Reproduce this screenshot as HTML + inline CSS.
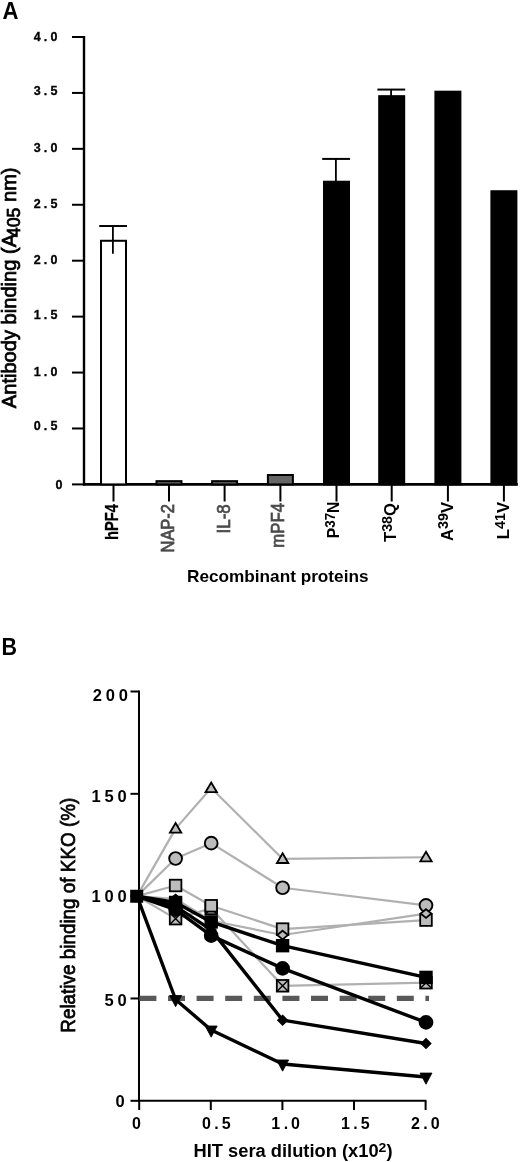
<!DOCTYPE html>
<html><head><meta charset="utf-8"><style>
html,body{margin:0;padding:0;background:#fff;width:520px;height:1162px;overflow:hidden}
svg{display:block;font-family:"Liberation Sans", sans-serif;will-change:transform}
text{stroke-width:0}
.tk{stroke:#000;stroke-width:0.3px}
.rl{stroke-width:0.7px}
.lab{stroke:#000;stroke-width:0.75px}
</style></head><body>
<svg width="520" height="1162" viewBox="0 0 520 1162">
<rect width="520" height="1162" fill="#fff"/>
<text x="2.5" y="18.5" font-size="23.5" font-weight="bold" textLength="16" lengthAdjust="spacingAndGlyphs">A</text>
<line x1="84.0" y1="36.0" x2="84.0" y2="485.4" stroke="#000" stroke-width="2.4"/>
<line x1="83.0" y1="484.4" x2="517.8" y2="484.4" stroke="#000" stroke-width="2.6"/>
<line x1="72" y1="484.40" x2="84.0" y2="484.40" stroke="#000" stroke-width="2"/>
<text x="59" y="488.90" class="tk" font-size="12.5" font-weight="bold" text-anchor="middle">0</text>
<line x1="72" y1="428.47" x2="84.0" y2="428.47" stroke="#000" stroke-width="2"/>
<text x="37.3 45.6 53.9" y="429.50" class="tk" font-size="12.5" font-weight="bold" text-anchor="middle">0.5</text>
<line x1="72" y1="372.55" x2="84.0" y2="372.55" stroke="#000" stroke-width="2"/>
<text x="37.3 45.6 53.9" y="375.50" class="tk" font-size="12.5" font-weight="bold" text-anchor="middle">1.0</text>
<line x1="72" y1="316.62" x2="84.0" y2="316.62" stroke="#000" stroke-width="2"/>
<text x="37.3 45.6 53.9" y="318.80" class="tk" font-size="12.5" font-weight="bold" text-anchor="middle">1.5</text>
<line x1="72" y1="260.70" x2="84.0" y2="260.70" stroke="#000" stroke-width="2"/>
<text x="37.3 45.6 53.9" y="264.10" class="tk" font-size="12.5" font-weight="bold" text-anchor="middle">2.0</text>
<line x1="72" y1="204.77" x2="84.0" y2="204.77" stroke="#000" stroke-width="2"/>
<text x="37.3 45.6 53.9" y="208.10" class="tk" font-size="12.5" font-weight="bold" text-anchor="middle">2.5</text>
<line x1="72" y1="148.85" x2="84.0" y2="148.85" stroke="#000" stroke-width="2"/>
<text x="37.3 45.6 53.9" y="152.40" class="tk" font-size="12.5" font-weight="bold" text-anchor="middle">3.0</text>
<line x1="72" y1="92.93" x2="84.0" y2="92.93" stroke="#000" stroke-width="2"/>
<text x="37.3 45.6 53.9" y="95.40" class="tk" font-size="12.5" font-weight="bold" text-anchor="middle">3.5</text>
<line x1="72" y1="37.00" x2="84.0" y2="37.00" stroke="#000" stroke-width="2"/>
<text x="37.3 45.6 53.9" y="41.30" class="tk" font-size="12.5" font-weight="bold" text-anchor="middle">4.0</text>
<line x1="112.90" y1="226.03" x2="112.90" y2="253.78" stroke="#000" stroke-width="1.8"/>
<line x1="99.20" y1="226.03" x2="127.00" y2="226.03" stroke="#000" stroke-width="2"/>
<rect x="101.00" y="240.78" width="25.00" height="243.62" fill="#fff" stroke="#000" stroke-width="2"/>
<line x1="112.90" y1="239.78" x2="112.90" y2="253.78" stroke="#000" stroke-width="1.8"/>
<line x1="113.50" y1="484.4" x2="113.50" y2="501.5" stroke="#000" stroke-width="2"/>
<rect x="156.50" y="481.15" width="25.00" height="3.25" fill="#666" stroke="#000" stroke-width="2"/>
<line x1="169.00" y1="484.4" x2="169.00" y2="501.5" stroke="#000" stroke-width="2"/>
<rect x="212.10" y="481.15" width="25.00" height="3.25" fill="#666" stroke="#000" stroke-width="2"/>
<line x1="224.60" y1="484.4" x2="224.60" y2="501.5" stroke="#000" stroke-width="2"/>
<rect x="267.90" y="475.00" width="25.00" height="9.40" fill="#666" stroke="#000" stroke-width="2"/>
<line x1="280.40" y1="484.4" x2="280.40" y2="501.5" stroke="#000" stroke-width="2"/>
<line x1="335.90" y1="158.92" x2="335.90" y2="182.73" stroke="#000" stroke-width="1.8"/>
<line x1="322.20" y1="158.92" x2="350.00" y2="158.92" stroke="#000" stroke-width="2"/>
<rect x="324.00" y="181.73" width="25.00" height="302.67" fill="#000" stroke="#000" stroke-width="2"/>
<line x1="336.50" y1="484.4" x2="336.50" y2="501.5" stroke="#000" stroke-width="2"/>
<line x1="391.10" y1="89.57" x2="391.10" y2="97.16" stroke="#000" stroke-width="1.8"/>
<line x1="377.40" y1="89.57" x2="405.20" y2="89.57" stroke="#000" stroke-width="2"/>
<rect x="379.20" y="96.16" width="25.00" height="388.24" fill="#000" stroke="#000" stroke-width="2"/>
<line x1="391.70" y1="484.4" x2="391.70" y2="501.5" stroke="#000" stroke-width="2"/>
<rect x="435.40" y="91.69" width="25.00" height="392.71" fill="#000" stroke="#000" stroke-width="2"/>
<line x1="447.90" y1="484.4" x2="447.90" y2="501.5" stroke="#000" stroke-width="2"/>
<rect x="491.40" y="191.23" width="25.00" height="293.17" fill="#000" stroke="#000" stroke-width="2"/>
<line x1="503.90" y1="484.4" x2="503.90" y2="501.5" stroke="#000" stroke-width="2"/>
<text transform="translate(117.70,504.00) rotate(-90)" x="0" y="0" class="rl" style="stroke-width:0.3px" font-size="17.5" font-weight="bold" fill="#000" stroke="#000" text-anchor="end" textLength="36" lengthAdjust="spacingAndGlyphs">hPF4</text>
<text transform="translate(174.20,504.00) rotate(-90)" x="0" y="0" class="rl" font-size="17.5" font-weight="normal" fill="#4a4a4a" stroke="#4a4a4a" text-anchor="end" textLength="48.5" lengthAdjust="spacingAndGlyphs">NAP-2</text>
<text transform="translate(229.60,504.40) rotate(-90)" x="0" y="0" class="rl" font-size="17.5" font-weight="normal" fill="#4a4a4a" stroke="#4a4a4a" text-anchor="end" textLength="29" lengthAdjust="spacingAndGlyphs">IL-8</text>
<text transform="translate(283.60,503.00) rotate(-90)" x="0" y="0" class="rl" font-size="17.5" font-weight="normal" fill="#4a4a4a" stroke="#4a4a4a" text-anchor="end" textLength="44.7" lengthAdjust="spacingAndGlyphs">mPF4</text>
<text transform="translate(338.80,538.20) rotate(-90)" x="0" y="0" class="rs" font-size="17" font-weight="bold" textLength="36.6" lengthAdjust="spacingAndGlyphs">P<tspan font-size="14.6" dy="-4.1">37</tspan><tspan dy="4.1">N</tspan></text>
<text transform="translate(396.10,542.00) rotate(-90)" x="0" y="0" class="rs" font-size="17" font-weight="bold" textLength="39.0" lengthAdjust="spacingAndGlyphs">T<tspan font-size="14.6" dy="-4.1">38</tspan><tspan dy="4.1">Q</tspan></text>
<text transform="translate(452.50,541.00) rotate(-90)" x="0" y="0" class="rs" font-size="17" font-weight="bold" textLength="39.1" lengthAdjust="spacingAndGlyphs">A<tspan font-size="14.6" dy="-4.1">39</tspan><tspan dy="4.1">V</tspan></text>
<text transform="translate(508.70,539.30) rotate(-90)" x="0" y="0" class="rs" font-size="17" font-weight="bold" textLength="37.4" lengthAdjust="spacingAndGlyphs">L<tspan font-size="14.6" dy="-4.1">41</tspan><tspan dy="4.1">V</tspan></text>
<text x="187" y="582.2" font-size="16.6" font-weight="bold" textLength="181.5" lengthAdjust="spacingAndGlyphs">Recombinant proteins</text>
<text transform="translate(16.4,408.2) rotate(-90)" class="lab" font-size="20.1">Antibody binding (A<tspan font-size="17.7" dy="4" dx="-3.2">405</tspan><tspan dy="-4"> nm)</tspan></text>
<text x="1.5" y="654.8" font-size="23.5" font-weight="bold" textLength="15.5" lengthAdjust="spacingAndGlyphs">B</text>
<line x1="139.0" y1="690.5" x2="139.0" y2="1101.8" stroke="#000" stroke-width="2"/>
<line x1="138.0" y1="1100.8" x2="426.40000000000003" y2="1100.8" stroke="#000" stroke-width="2"/>
<line x1="130.5" y1="1100.80" x2="139.0" y2="1100.80" stroke="#000" stroke-width="2"/>
<text x="120.0" y="1107.20" font-size="16.5" font-weight="bold" text-anchor="middle">0</text>
<line x1="130.5" y1="998.47" x2="139.0" y2="998.47" stroke="#000" stroke-width="2"/>
<text x="109.0 122.0" y="1006.00" font-size="16.5" font-weight="bold" text-anchor="middle">50</text>
<line x1="130.5" y1="896.15" x2="139.0" y2="896.15" stroke="#000" stroke-width="2"/>
<text x="96.2 109.2 122.2" y="902.00" font-size="16.5" font-weight="bold" text-anchor="middle">100</text>
<line x1="130.5" y1="793.82" x2="139.0" y2="793.82" stroke="#000" stroke-width="2"/>
<text x="96.2 109.2 122.2" y="801.50" font-size="16.5" font-weight="bold" text-anchor="middle">150</text>
<line x1="130.5" y1="691.50" x2="139.0" y2="691.50" stroke="#000" stroke-width="2"/>
<text x="97.4 110.4 123.4" y="700.55" font-size="16.5" font-weight="bold" text-anchor="middle">200</text>
<line x1="139.20" y1="1100.8" x2="139.20" y2="1110" stroke="#000" stroke-width="2"/>
<text x="136.40" y="1129.0" font-size="16" font-weight="bold" text-anchor="middle">0</text>
<line x1="210.80" y1="1100.8" x2="210.80" y2="1110" stroke="#000" stroke-width="2"/>
<text x="206.4 216.6 226.1" y="1129.2" font-size="16" font-weight="bold" text-anchor="middle">0.5</text>
<line x1="282.40" y1="1100.8" x2="282.40" y2="1110" stroke="#000" stroke-width="2"/>
<text x="275.7 285.9 295.4" y="1129.2" font-size="16" font-weight="bold" text-anchor="middle">1.0</text>
<line x1="354.00" y1="1100.8" x2="354.00" y2="1110" stroke="#000" stroke-width="2"/>
<text x="345.4 355.6 365.1" y="1129.2" font-size="16" font-weight="bold" text-anchor="middle">1.5</text>
<line x1="425.60" y1="1100.8" x2="425.60" y2="1110" stroke="#000" stroke-width="2"/>
<text x="415.4 425.6 435.1" y="1129.2" font-size="16" font-weight="bold" text-anchor="middle">2.0</text>
<text x="193.5" y="1157.2" font-size="17.6" font-weight="bold" textLength="199" lengthAdjust="spacingAndGlyphs">HIT sera dilution (x10<tspan font-size="13.5" dy="-5.5">2</tspan><tspan dy="5.5">)</tspan></text>
<text transform="translate(75.2,1032.7) rotate(-90)" class="lab" font-size="21" textLength="235" lengthAdjust="spacingAndGlyphs">Relative binding of KKO (%)</text>
<line x1="139.4" y1="998.47" x2="429" y2="998.47" stroke="#595959" stroke-width="5.2" stroke-dasharray="17 11.6"/>
<polyline points="137.00,896.15 175.60,918.66 211.20,908.43 282.60,985.79 426.00,982.72" fill="none" stroke="#b0b0b0" stroke-width="2.2" stroke-linejoin="round"/>
<polyline points="137.00,896.15 175.60,885.51 211.20,905.77 282.60,929.10 426.00,920.09" fill="none" stroke="#b0b0b0" stroke-width="2.2" stroke-linejoin="round"/>
<polyline points="137.00,896.15 175.60,858.49 211.20,843.15 282.60,887.76 426.00,905.36" fill="none" stroke="#b0b0b0" stroke-width="2.2" stroke-linejoin="round"/>
<polyline points="137.00,896.15 175.60,828.62 211.20,788.09 282.60,858.90 426.00,857.27" fill="none" stroke="#b0b0b0" stroke-width="2.2" stroke-linejoin="round"/>
<polyline points="137.00,896.15 175.60,899.02 211.20,920.71 282.60,935.03 426.00,913.55" fill="none" stroke="#b0b0b0" stroke-width="2.2" stroke-linejoin="round"/>
<rect x="169.80" y="912.86" width="11.6" height="11.6" fill="#bcbcbc" stroke="#000" stroke-width="1.8"/><path d="M169.80,912.86L181.40,924.46M181.40,912.86L169.80,924.46" stroke="#000" stroke-width="1.4"/>
<rect x="205.40" y="902.63" width="11.6" height="11.6" fill="#bcbcbc" stroke="#000" stroke-width="1.8"/><path d="M205.40,902.63L217.00,914.23M217.00,902.63L205.40,914.23" stroke="#000" stroke-width="1.4"/>
<rect x="276.80" y="979.99" width="11.6" height="11.6" fill="#bcbcbc" stroke="#000" stroke-width="1.8"/><path d="M276.80,979.99L288.40,991.59M288.40,979.99L276.80,991.59" stroke="#000" stroke-width="1.4"/>
<rect x="420.20" y="976.92" width="11.6" height="11.6" fill="#bcbcbc" stroke="#000" stroke-width="1.8"/><path d="M420.20,976.92L431.80,988.52M431.80,976.92L420.20,988.52" stroke="#000" stroke-width="1.4"/>
<rect x="169.80" y="879.71" width="11.6" height="11.6" fill="#bcbcbc" stroke="#000" stroke-width="1.8"/>
<rect x="205.40" y="899.97" width="11.6" height="11.6" fill="#bcbcbc" stroke="#000" stroke-width="1.8"/>
<rect x="276.80" y="923.30" width="11.6" height="11.6" fill="#bcbcbc" stroke="#000" stroke-width="1.8"/>
<rect x="420.20" y="914.29" width="11.6" height="11.6" fill="#bcbcbc" stroke="#000" stroke-width="1.8"/>
<circle cx="175.60" cy="858.49" r="6.4" fill="#bcbcbc" stroke="#000" stroke-width="1.9"/>
<circle cx="211.20" cy="843.15" r="6.4" fill="#bcbcbc" stroke="#000" stroke-width="1.9"/>
<circle cx="282.60" cy="887.76" r="6.4" fill="#bcbcbc" stroke="#000" stroke-width="1.9"/>
<circle cx="426.00" cy="905.36" r="6.4" fill="#bcbcbc" stroke="#000" stroke-width="1.9"/>
<path d="M175.60,823.02L181.30,832.72L169.90,832.72Z" fill="#bcbcbc" stroke="#000" stroke-width="1.8" stroke-linejoin="miter"/>
<path d="M211.20,782.49L216.90,792.19L205.50,792.19Z" fill="#bcbcbc" stroke="#000" stroke-width="1.8" stroke-linejoin="miter"/>
<path d="M282.60,853.30L288.30,863.00L276.90,863.00Z" fill="#bcbcbc" stroke="#000" stroke-width="1.8" stroke-linejoin="miter"/>
<path d="M426.00,851.67L431.70,861.37L420.30,861.37Z" fill="#bcbcbc" stroke="#000" stroke-width="1.8" stroke-linejoin="miter"/>
<path d="M175.60,894.72L181.00,899.02L175.60,903.32L170.20,899.02Z" fill="#bcbcbc" stroke="#000" stroke-width="1.8"/>
<path d="M211.20,916.41L216.60,920.71L211.20,925.01L205.80,920.71Z" fill="#bcbcbc" stroke="#000" stroke-width="1.8"/>
<path d="M282.60,930.73L288.00,935.03L282.60,939.33L277.20,935.03Z" fill="#bcbcbc" stroke="#000" stroke-width="1.8"/>
<path d="M426.00,909.25L431.40,913.55L426.00,917.85L420.60,913.55Z" fill="#bcbcbc" stroke="#000" stroke-width="1.8"/>
<polyline points="137.00,896.15 175.60,999.50 211.20,1029.99 282.60,1063.96 426.00,1077.06" fill="none" stroke="#000" stroke-width="3.4" stroke-linejoin="round"/>
<polyline points="137.00,896.15 175.60,906.38 211.20,929.92 282.60,1020.17 426.00,1043.50" fill="none" stroke="#000" stroke-width="3.4" stroke-linejoin="round"/>
<polyline points="137.00,896.15 175.60,909.66 211.20,935.65 282.60,968.39 426.00,1022.42" fill="none" stroke="#000" stroke-width="3.4" stroke-linejoin="round"/>
<polyline points="137.00,896.15 175.60,902.49 211.20,921.94 282.60,945.68 426.00,977.40" fill="none" stroke="#000" stroke-width="3.4" stroke-linejoin="round"/>
<path d="M169.60,995.50L181.60,995.50L175.60,1006.70Z" fill="#000" stroke="#000" stroke-width="0.8"/>
<path d="M205.20,1025.99L217.20,1025.99L211.20,1037.19Z" fill="#000" stroke="#000" stroke-width="0.8"/>
<path d="M276.60,1059.96L288.60,1059.96L282.60,1071.16Z" fill="#000" stroke="#000" stroke-width="0.8"/>
<path d="M420.00,1073.06L432.00,1073.06L426.00,1084.26Z" fill="#000" stroke="#000" stroke-width="0.8"/>
<path d="M175.60,901.48L180.50,906.38L175.60,911.28L170.70,906.38Z" fill="#000" stroke="#000" stroke-width="1.2"/>
<path d="M211.20,925.02L216.10,929.92L211.20,934.82L206.30,929.92Z" fill="#000" stroke="#000" stroke-width="1.2"/>
<path d="M282.60,1015.27L287.50,1020.17L282.60,1025.07L277.70,1020.17Z" fill="#000" stroke="#000" stroke-width="1.2"/>
<path d="M426.00,1038.60L430.90,1043.50L426.00,1048.40L421.10,1043.50Z" fill="#000" stroke="#000" stroke-width="1.2"/>
<circle cx="175.60" cy="909.66" r="6.4" fill="#000" stroke="#000" stroke-width="1.9"/>
<circle cx="211.20" cy="935.65" r="6.4" fill="#000" stroke="#000" stroke-width="1.9"/>
<circle cx="282.60" cy="968.39" r="6.4" fill="#000" stroke="#000" stroke-width="1.9"/>
<circle cx="426.00" cy="1022.42" r="6.4" fill="#000" stroke="#000" stroke-width="1.9"/>
<rect x="169.80" y="896.69" width="11.6" height="11.6" fill="#000" stroke="#000" stroke-width="1.8"/>
<rect x="205.40" y="916.14" width="11.6" height="11.6" fill="#000" stroke="#000" stroke-width="1.8"/>
<rect x="276.80" y="939.88" width="11.6" height="11.6" fill="#000" stroke="#000" stroke-width="1.8"/>
<rect x="420.20" y="971.60" width="11.6" height="11.6" fill="#000" stroke="#000" stroke-width="1.8"/>
<rect x="130.2" y="889.75" width="13" height="13" fill="#000"/>
</svg>
</body></html>
